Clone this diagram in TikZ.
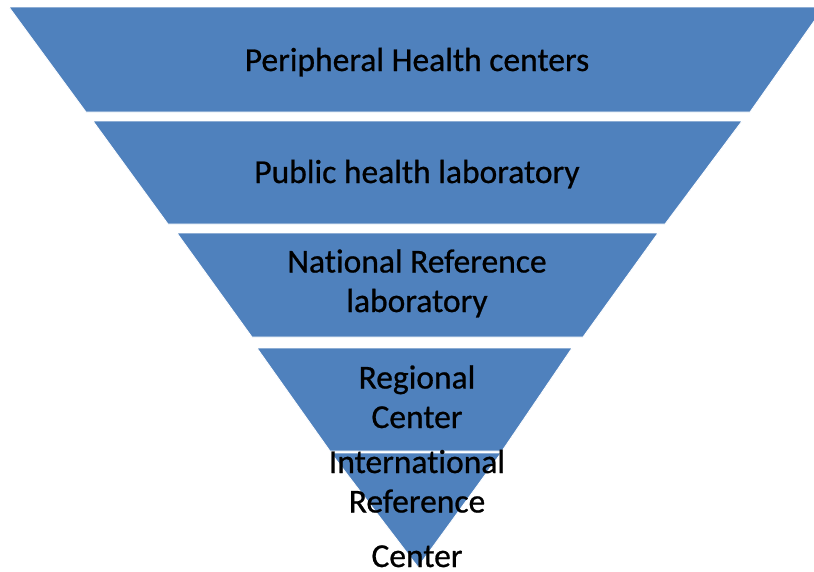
\documentclass[tikz,border=0pt]{standalone}
\usepackage{fontspec}
\setmainfont{Carlito}[Ligatures=NoCommon,FakeBold=0.7]
\usepackage{tikz}

\definecolor{tierblue}{HTML}{4F81BD}

\begin{document}
\begin{tikzpicture}[x=1pt,y=-1pt,
  tier/.style={fill=tierblue,draw=white,line width=0.8pt},
  tiertext/.style={anchor=base,align=center,inner sep=0pt,font=\fontsize{33.5}{39.5}\selectfont}]
\useasboundingbox (0,0) rectangle (814,571);
% the five tiers of the inverted pyramid, widest on top
\begin{scope}
\clip (0,0) rectangle (814,571);
\draw[tier] (9,7) -- (824,7) -- (750,112) -- (86,112) -- cycle;
\draw[tier] (93,121) -- (742,121) -- (665,224) -- (168,224) -- cycle;
\draw[tier] (177,233) -- (658,233) -- (583,337) -- (252,337) -- cycle;
\draw[tier] (257,348) -- (572,348) -- (502,451) -- (330,451) -- cycle;
\draw[tier] (331,453) -- (501,453) -- (418,567) -- cycle;
\end{scope}
% tier names
\node[tiertext] (peripheral) at (417,71) {Peripheral Health centers};
\node[tiertext] (publiclab) at (417,183) {Public health laboratory};
\node[tiertext] (nationalref) at (417,312) {National Reference\\laboratory};
\node[tiertext] (regional) at (417,428) {Regional\\Center};
\node[tiertext] (international) at (417,567) {International\\Reference\\[15pt]Center};
\end{tikzpicture}
\end{document}
